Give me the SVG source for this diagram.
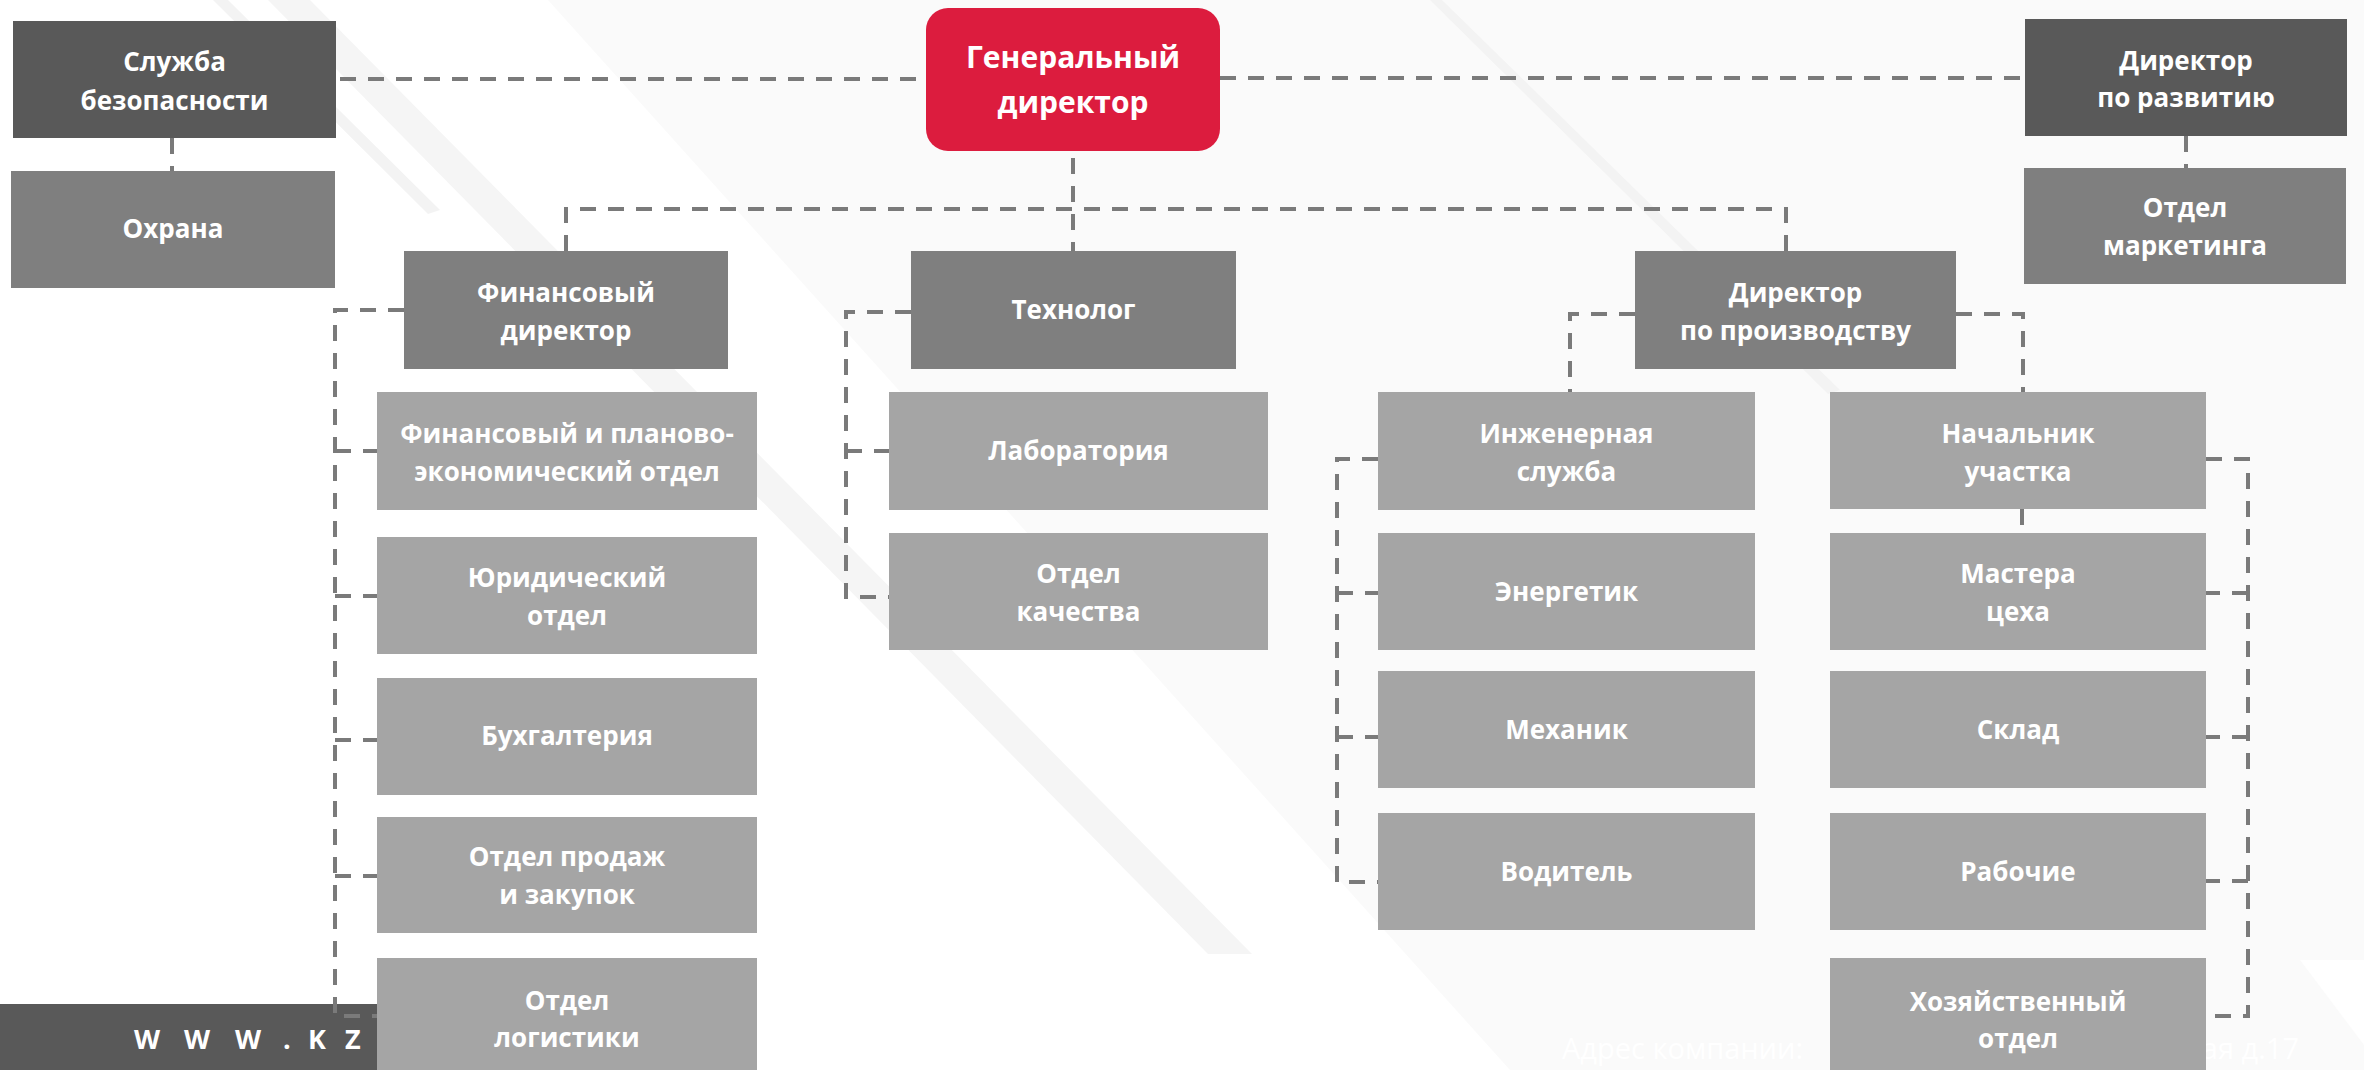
<svg xmlns="http://www.w3.org/2000/svg" width="2364" height="1070" viewBox="0 0 2364 1070">
<style>
.t{font-family:"Open Sans","Noto Sans","DejaVu Sans",sans-serif;font-weight:700;font-size:26px;fill:#ffffff;text-anchor:middle}
.tg{font-size:30px}
.d1{fill:#595959}
.d2{fill:#7f7f7f}
.d3{fill:#a5a5a5}
.c path{fill:none;stroke:#7a7a7a;stroke-width:4;stroke-dasharray:16 12}
</style>
<g id="background">
<rect x="0" y="0" width="2364" height="1070" fill="#ffffff"/>
<polygon points="548,0 2364,0 2364,1070 1510,1070" fill="#fafafa"/>
<polygon points="268,0 310,0 1252,954 1208,954" fill="#f5f5f5"/>
<polygon points="213,0 228,0 440,210 428,214" fill="#f3f3f3"/>
<polygon points="1430,0 1442,0 1840,390 1828,394" fill="#f3f3f3"/>
<polygon points="2300,960 2364,960 2364,1045" fill="#ffffff"/>
<rect x="0" y="1004" width="378" height="66" fill="#595959"/>
<text x="134 184 235 283 308 345" y="1049" style="font-family:'Open Sans','DejaVu Sans',sans-serif;font-weight:700;font-size:27px;fill:#ffffff">WWW.KZ</text>
<text x="1562" y="1059" style="font-family:'Open Sans','DejaVu Sans',sans-serif;font-size:29px;fill:#ffffff">Адрес компании:</text>
<text x="2299" y="1059" style="font-family:'Open Sans','DejaVu Sans',sans-serif;font-size:29px;fill:#ffffff;text-anchor:end">ая д.17</text>
</g>
<g id="connectors" class="c">
<path d="M340,79 H926"/>
<path d="M1220,78 H2025"/>
<path d="M172,138 V171"/>
<path d="M2186,136 V168"/>
<path d="M1073,158 V251"/>
<path d="M566,251 V209 H1786 V251"/>
<path d="M404,310 H335 V1016 H377"/>
<path d="M335,451 H377"/>
<path d="M335,596 H377"/>
<path d="M335,740 H377"/>
<path d="M335,876 H377"/>
<path d="M911,312 H846 V597 H889"/>
<path d="M846,451 H889"/>
<path d="M1635,314 H1570 V392"/>
<path d="M1956,314 H2023 V392"/>
<path d="M2022,509 V533"/>
<path d="M1378,459 H1337 V882 H1378"/>
<path d="M1337,593 H1378"/>
<path d="M1337,737 H1378"/>
<path d="M2206,459 H2248 V1016 H2206"/>
<path d="M2248,593 H2206"/>
<path d="M2248,737 H2206"/>
<path d="M2248,881 H2206"/>
</g>
<g id="n-security"><rect class="d1" x="13" y="21" width="323" height="117"/><text class="t" x="174.5" y="71">Служба</text><text class="t" x="174.5" y="110">безопасности</text></g>
<g id="n-guard"><rect class="d2" x="11" y="171" width="324" height="117"/><text class="t" x="173" y="238">Охрана</text></g>
<g id="n-ceo"><rect x="926" y="8" width="294" height="143" rx="22" fill="#dc1c3e"/><text class="t tg" x="1073" y="68">Генеральный</text><text class="t tg" x="1073" y="113">директор</text></g>
<g id="n-devdir"><rect class="d1" x="2025" y="19" width="322" height="117"/><text class="t" x="2186" y="70">Директор</text><text class="t" x="2186" y="107">по развитию</text></g>
<g id="n-marketing"><rect class="d2" x="2024" y="168" width="322" height="116"/><text class="t" x="2185" y="217">Отдел</text><text class="t" x="2185" y="255">маркетинга</text></g>
<g id="n-findir"><rect class="d2" x="404" y="251" width="324" height="118"/><text class="t" x="566" y="302">Финансовый</text><text class="t" x="566" y="340">директор</text></g>
<g id="n-tech"><rect class="d2" x="911" y="251" width="325" height="118"/><text class="t" x="1073.5" y="319">Технолог</text></g>
<g id="n-proddir"><rect class="d2" x="1635" y="251" width="321" height="118"/><text class="t" x="1795.5" y="302">Директор</text><text class="t" x="1795.5" y="340">по производству</text></g>
<g id="n-fpeo"><rect class="d3" x="377" y="392" width="380" height="118"/><text class="t" x="567" y="443">Финансовый и планово-</text><text class="t" x="567" y="481">экономический отдел</text></g>
<g id="n-legal"><rect class="d3" x="377" y="537" width="380" height="117"/><text class="t" x="567" y="587">Юридический</text><text class="t" x="567" y="625">отдел</text></g>
<g id="n-account"><rect class="d3" x="377" y="678" width="380" height="117"/><text class="t" x="567" y="745">Бухгалтерия</text></g>
<g id="n-sales"><rect class="d3" x="377" y="817" width="380" height="116"/><text class="t" x="567" y="866">Отдел продаж</text><text class="t" x="567" y="904">и закупок</text></g>
<g id="n-logistics"><rect class="d3" x="377" y="958" width="380" height="112"/><text class="t" x="567" y="1010">Отдел</text><text class="t" x="567" y="1047">логистики</text></g>
<g id="n-lab"><rect class="d3" x="889" y="392" width="379" height="118"/><text class="t" x="1078.5" y="460">Лаборатория</text></g>
<g id="n-quality"><rect class="d3" x="889" y="533" width="379" height="117"/><text class="t" x="1078.5" y="583">Отдел</text><text class="t" x="1078.5" y="621">качества</text></g>
<g id="n-eng"><rect class="d3" x="1378" y="392" width="377" height="118"/><text class="t" x="1566.5" y="443">Инженерная</text><text class="t" x="1566.5" y="481">служба</text></g>
<g id="n-energy"><rect class="d3" x="1378" y="533" width="377" height="117"/><text class="t" x="1566.5" y="601">Энергетик</text></g>
<g id="n-mech"><rect class="d3" x="1378" y="671" width="377" height="117"/><text class="t" x="1566.5" y="739">Механик</text></g>
<g id="n-driver"><rect class="d3" x="1378" y="813" width="377" height="117"/><text class="t" x="1566.5" y="881">Водитель</text></g>
<g id="n-chief"><rect class="d3" x="1830" y="392" width="376" height="117"/><text class="t" x="2018" y="443">Начальник</text><text class="t" x="2018" y="481">участка</text></g>
<g id="n-masters"><rect class="d3" x="1830" y="533" width="376" height="117"/><text class="t" x="2018" y="583">Мастера</text><text class="t" x="2018" y="621">цеха</text></g>
<g id="n-store"><rect class="d3" x="1830" y="671" width="376" height="117"/><text class="t" x="2018" y="739">Склад</text></g>
<g id="n-workers"><rect class="d3" x="1830" y="813" width="376" height="117"/><text class="t" x="2018" y="881">Рабочие</text></g>
<g id="n-household"><rect class="d3" x="1830" y="958" width="376" height="112"/><text class="t" x="2018" y="1011">Хозяйственный</text><text class="t" x="2018" y="1048">отдел</text></g>
</svg>
